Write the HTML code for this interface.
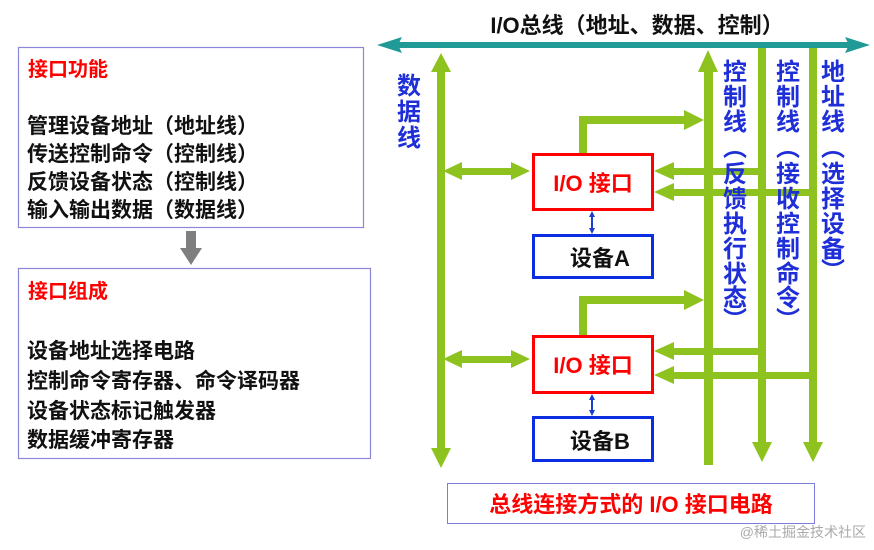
<!DOCTYPE html>
<html><head><meta charset="utf-8"><style>
body{margin:0;background:#fff;}
svg text{font-family:"Liberation Sans","Noto Sans CJK SC",sans-serif;font-weight:bold;}
</style></head><body>
<svg width="874" height="545" viewBox="0 0 874 545" xmlns="http://www.w3.org/2000/svg">
<rect width="874" height="545" fill="#fff"/>
<!-- left panels -->
<rect x="18.5" y="47.5" width="345" height="180" fill="#fff" stroke="#8b86d8" stroke-width="1.2"/>
<text x="28" y="76" font-size="20" fill="#ff0000">接口功能</text>
<g font-size="21" fill="#111">
<text x="27" y="133">管理设备地址（地址线）</text>
<text x="27" y="161">传送控制命令（控制线）</text>
<text x="27" y="189">反馈设备状态（控制线）</text>
<text x="27" y="217">输入输出数据（数据线）</text>
</g>
<polygon points="186,231 196,231 196,248 202,248 191,265 180,248 186,248" fill="#7f7f7f"/>
<rect x="18.5" y="268.5" width="352" height="190" fill="#fff" stroke="#8b86d8" stroke-width="1.2"/>
<text x="28" y="298" font-size="20" fill="#ff0000">接口组成</text>
<g font-size="21" fill="#111">
<text x="27" y="358">设备地址选择电路</text>
<text x="27" y="388">控制命令寄存器、命令译码器</text>
<text x="27" y="418">设备状态标记触发器</text>
<text x="27" y="447">数据缓冲寄存器</text>
</g>
<!-- bus -->
<text x="637" y="33" font-size="22" fill="#111" text-anchor="middle">I/O总线（地址、数据、控制）</text>
<rect x="395" y="42" width="460" height="6" fill="#1f9a96"/>
<polygon points="377,45 402,37 398,45 402,53" fill="#1f9a96"/>
<polygon points="870,45 845,37 849,45 845,53" fill="#1f9a96"/>
<g fill="#8dc21f">
<rect x="437" y="68" width="8" height="385"/>
<polygon points="441,53 431,72 451,72"/>
<polygon points="441,468 431,448 451,448"/>
<rect x="704" y="68" width="9" height="397"/>
<polygon points="708,50 698,72 718,72"/>
<rect x="758" y="48" width="8" height="398"/>
<polygon points="762,462 752,442 772,442"/>
<rect x="809" y="48" width="8" height="398"/>
<polygon points="813,462 803,442 823,442"/>
<rect x="579" y="116" width="8" height="38"/>
<rect x="579" y="116" width="110" height="8"/>
<polygon points="704,120 684,110 684,130"/>
<rect x="460" y="168" width="55" height="7"/>
<polygon points="443,171 462,162 462,180"/>
<polygon points="530,171 511,162 511,180"/>
<rect x="670" y="168" width="92" height="7"/>
<polygon points="654,171 674,162 674,180"/>
<rect x="670" y="189" width="143" height="7"/>
<polygon points="654,192 674,183 674,201"/>
<rect x="579" y="296" width="8" height="40"/>
<rect x="579" y="296" width="110" height="8"/>
<polygon points="704,300 684,290 684,310"/>
<rect x="460" y="356" width="55" height="7"/>
<polygon points="443,359 462,350 462,368"/>
<polygon points="530,359 511,350 511,368"/>
<rect x="670" y="348" width="92" height="7"/>
<polygon points="654,351 674,342 674,360"/>
<rect x="670" y="372" width="143" height="7"/>
<polygon points="654,375 674,366 674,384"/>
</g>
<!-- boxes -->
<rect x="533.5" y="154.5" width="119" height="55" fill="#fff" stroke="#ff0000" stroke-width="3"/>
<text x="593" y="191" font-size="22" fill="#ff0000" text-anchor="middle">I/O 接口</text>
<rect x="533.5" y="235.5" width="119" height="42" fill="#fff" stroke="#0a2ee0" stroke-width="3"/>
<text x="600" y="266" font-size="22" fill="#111" text-anchor="middle">设备A</text>
<g stroke="#1a3fd0" stroke-width="2" fill="#1a3fd0">
<line x1="592" y1="214" x2="592" y2="231"/>
<polygon points="592,211 589,217 595,217" stroke="none"/>
<polygon points="592,234 589,228 595,228" stroke="none"/>
<line x1="592" y1="397" x2="592" y2="413"/>
<polygon points="592,394 589,400 595,400" stroke="none"/>
<polygon points="592,416 589,410 595,410" stroke="none"/>
</g>
<rect x="533.5" y="336.5" width="119" height="56" fill="#fff" stroke="#ff0000" stroke-width="3"/>
<text x="593" y="373" font-size="22" fill="#ff0000" text-anchor="middle">I/O 接口</text>
<rect x="533.5" y="417.5" width="119" height="43" fill="#fff" stroke="#0a2ee0" stroke-width="3"/>
<text x="600" y="449" font-size="22" fill="#111" text-anchor="middle">设备B</text>
<!-- vertical labels -->
<g font-size="24" fill="#1f2fd8" text-anchor="middle">
<text x="409" y="94">数</text><text x="409" y="120">据</text><text x="409" y="146">线</text>
</g>
<g font-size="24" fill="#1f2fd8" text-anchor="middle">
<text x="735" y="80">控</text><text x="735" y="105">制</text><text x="735" y="130">线</text><text x="735" y="156">︵</text><text x="735" y="182">反</text><text x="735" y="207">馈</text><text x="735" y="232">执</text><text x="735" y="257">行</text><text x="735" y="282">状</text><text x="735" y="306">态</text><text x="735" y="328">︶</text>
<text x="788" y="80">控</text><text x="788" y="105">制</text><text x="788" y="130">线</text><text x="788" y="156">︵</text><text x="788" y="182">接</text><text x="788" y="207">收</text><text x="788" y="232">控</text><text x="788" y="257">制</text><text x="788" y="282">命</text><text x="788" y="306">令</text><text x="788" y="328">︶</text>
<text x="833" y="80">地</text><text x="833" y="105">址</text><text x="833" y="130">线</text><text x="833" y="156">︵</text><text x="833" y="182">选</text><text x="833" y="207">择</text><text x="833" y="232">设</text><text x="833" y="257">备</text><text x="833" y="279">︶</text>
</g>
<!-- caption -->
<rect x="447.5" y="483.5" width="367" height="40" fill="#fff" stroke="#7d7de0" stroke-width="1"/>
<text x="631" y="512" font-size="22" fill="#ff0000" text-anchor="middle">总线连接方式的 I/O 接口电路</text>
<text x="866" y="537" font-size="14" fill="#aaa" text-anchor="end" style="font-weight:normal">@稀土掘金技术社区</text>
</svg>
</body></html>
